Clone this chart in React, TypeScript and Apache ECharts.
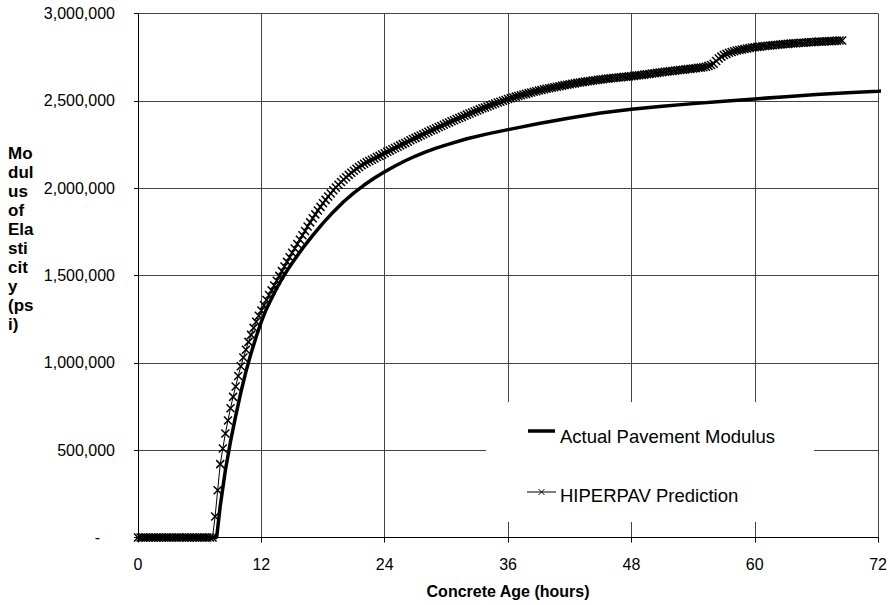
import React, { useEffect, useRef } from "react";
import * as echarts from "echarts";

// ---- data ----
const xTicks = [0, 12, 24, 36, 48, 60, 72];
const yMax = 3000000;
const yStep = 500000;

// HIPERPAV prediction, kpsi, sampled every 0.25 h from 0 h (one row per hour)
const predictionStepHours = 0.25;
const predictionKpsi = [
  0, 0, 0, 0, // 0
  0, 0, 0, 0, // 1
  0, 0, 0, 0, // 2
  0, 0, 0, 0, // 3
  0, 0, 0, 0, // 4
  0, 0, 0, 0, // 5
  0, 0, 0, 0, // 6
  0, 0, 120, 270, // 7
  420, 510, 595, 670, // 8
  740, 805, 865, 925, // 9
  980, 1030, 1075, 1120, // 10
  1160, 1200, 1235, 1270, // 11
  1300, 1330, 1360, 1388, // 12
  1415, 1443, 1470, 1498, // 13
  1525, 1552, 1578, 1604, // 14
  1630, 1655, 1680, 1705, // 15
  1730, 1755, 1780, 1804, // 16
  1828, 1850, 1872, 1893, // 17
  1914, 1933, 1952, 1970, // 18
  1988, 2004, 2020, 2035, // 19
  2050, 2063, 2076, 2088, // 20
  2100, 2111, 2121, 2131, // 21
  2140, 2148, 2155, 2163, // 22
  2170, 2178, 2185, 2193, // 23
  2200, 2208, 2215, 2223, // 24
  2230, 2237, 2245, 2252, // 25
  2259, 2266, 2274, 2281, // 26
  2288, 2295, 2302, 2309, // 27
  2316, 2323, 2330, 2336, // 28
  2343, 2350, 2356, 2363, // 29
  2370, 2376, 2383, 2389, // 30
  2396, 2402, 2408, 2415, // 31
  2421, 2427, 2433, 2439, // 32
  2445, 2451, 2457, 2462, // 33
  2468, 2474, 2479, 2485, // 34
  2490, 2495, 2500, 2505, // 35
  2510, 2515, 2519, 2524, // 36
  2528, 2532, 2536, 2540, // 37
  2544, 2548, 2552, 2555, // 38
  2559, 2562, 2566, 2569, // 39
  2572, 2575, 2578, 2581, // 40
  2584, 2587, 2590, 2592, // 41
  2595, 2598, 2600, 2603, // 42
  2605, 2607, 2610, 2612, // 43
  2614, 2616, 2618, 2620, // 44
  2622, 2624, 2626, 2627, // 45
  2629, 2631, 2632, 2634, // 46
  2635, 2637, 2638, 2640, // 47
  2641, 2643, 2645, 2646, // 48
  2648, 2650, 2652, 2654, // 49
  2656, 2658, 2660, 2662, // 50
  2664, 2666, 2668, 2669, // 51
  2671, 2673, 2675, 2676, // 52
  2678, 2680, 2682, 2683, // 53
  2685, 2687, 2689, 2690, // 54
  2692, 2695, 2700, 2705, // 55
  2712, 2728, 2742, 2753, // 56
  2762, 2769, 2775, 2780, // 57
  2784, 2788, 2791, 2794, // 58
  2797, 2800, 2802, 2805, // 59
  2807, 2809, 2810, 2812, // 60
  2814, 2815, 2817, 2818, // 61
  2820, 2821, 2823, 2824, // 62
  2825, 2826, 2828, 2829, // 63
  2830, 2831, 2832, 2833, // 64
  2834, 2835, 2836, 2837, // 65
  2838, 2839, 2839, 2840, // 66
  2841, 2842, 2842, 2843, // 67
  2844, 2845, 2845, // 68 .. 68.5
];

// Actual pavement modulus, kpsi
const actualHours = [
  0, 7.65, 8, 8.5, 9, 9.5, 10, 10.5, 11, 11.5, 12, 12.5, 13, 13.5, 14, 14.5, 15,
  16, 17, 18, 19, 20, 21, 22, 23, 24, 25, 26, 27, 28, 29, 30, 32, 34, 36, 39, 42,
  45, 48, 51, 54, 57, 60, 63, 66, 69, 72, 73.5,
];
const actualKpsi = [
  0, 0, 180, 385, 550, 695, 830, 950, 1055, 1150, 1236, 1310, 1370, 1428, 1480,
  1528, 1572, 1655, 1730, 1800, 1864, 1922, 1973, 2018, 2058, 2094, 2127, 2157,
  2184, 2208, 2229, 2248, 2283, 2311, 2335, 2370, 2402, 2430, 2452, 2469, 2484,
  2498, 2511, 2524, 2536, 2546, 2555, 2560,
];

const seriesNames = ["Actual Pavement Modulus", "HIPERPAV Prediction"];
const xTitle = "Concrete Age (hours)";
const yTitleLines = ["Mo", "dul", "us", "of", "Ela", "sti", "cit", "y", "(ps", "i)"];

const FONT = "'Liberation Sans', Arial, Helvetica, sans-serif";

export default function App() {
  const ref = useRef<HTMLDivElement>(null);

  useEffect(() => {
    document.body.style.margin = "0";
    if (!ref.current) return;
    const chart = echarts.init(ref.current, undefined, { renderer: "svg" });

    const predictionData = predictionKpsi.map((v, i) => [i * predictionStepHours, v * 1000]);
    const actualData = actualHours.map((h, i) => [h, actualKpsi[i] * 1000]);

    const xMarker = "path://M0,0L8,8M8,0L0,8";

    chart.setOption({
      animation: false,
      backgroundColor: "#ffffff",
      textStyle: { fontFamily: FONT },
      grid: { left: 138, right: 10, top: 13.5, bottom: 67.5, containLabel: false },
      xAxis: {
        type: "value",
        min: xTicks[0],
        max: xTicks[xTicks.length - 1],
        interval: 12,
        name: xTitle,
        nameLocation: "middle",
        nameGap: 46,
        nameTextStyle: { fontFamily: FONT, fontSize: 16, fontWeight: "bold", color: "#000" },
        axisLine: { show: true, lineStyle: { color: "#000", width: 1 } },
        axisTick: { show: true, length: 5, inside: false, lineStyle: { color: "#000" } },
        axisLabel: { margin: 19, fontFamily: FONT, fontSize: 16, color: "#000" },
        splitLine: { show: true, lineStyle: { color: "#444", width: 1 } },
      },
      yAxis: {
        type: "value",
        min: 0,
        max: yMax,
        interval: yStep,
        axisLine: { show: true, lineStyle: { color: "#000", width: 1 } },
        axisTick: { show: true, length: 4, inside: false, lineStyle: { color: "#000" } },
        axisLabel: {
          margin: 23,
          fontFamily: FONT,
          fontSize: 16,
          color: "#000",
          formatter: (v: number) => (v === 0 ? "{dash|-}" : v.toLocaleString("en-US")),
          rich: { dash: { fontFamily: FONT, fontSize: 16, color: "#000", padding: [0, 15, 0, 0] } },
        },
        splitLine: { show: true, lineStyle: { color: "#444", width: 1 } },
      },
      series: [
        {
          name: seriesNames[0],
          type: "line",
          data: actualData,
          symbol: "none",
          showSymbol: false,
          clip: false,
          lineStyle: { color: "#000", width: 3.5 },
          itemStyle: { color: "#000" },
          emphasis: { disabled: true },
          silent: true,
          z: 3,
        },
        {
          name: seriesNames[1],
          type: "line",
          data: predictionData,
          symbol: xMarker,
          symbolSize: 8,
          showSymbol: true,
          lineStyle: { color: "#000", width: 1 },
          itemStyle: { color: "#000", borderColor: "#000", borderWidth: 1.5 },
          emphasis: { disabled: true },
          silent: true,
          z: 2,
        },
      ],
      graphic: [
        {
          type: "rect",
          z: 10,
          shape: { x: 486, y: 402, width: 328, height: 120 },
          style: { fill: "#ffffff" },
          silent: true,
        },
        {
          type: "line",
          z: 11,
          shape: { x1: 528, y1: 431, x2: 555, y2: 431 },
          style: { stroke: "#000", lineWidth: 3.5 },
          silent: true,
        },
        {
          type: "text",
          z: 11,
          style: {
            text: seriesNames[0],
            x: 560,
            y: 436.5,
            fill: "#000",
            fontFamily: FONT,
            fontSize: 18.5,
            verticalAlign: "middle",
            align: "left",
          },
          silent: true,
        },
        {
          type: "line",
          z: 11,
          shape: { x1: 527, y1: 492, x2: 556, y2: 492 },
          style: { stroke: "#000", lineWidth: 1 },
          silent: true,
        },
        {
          type: "line",
          z: 11,
          shape: { x1: 538.5, y1: 489, x2: 544.5, y2: 495 },
          style: { stroke: "#000", lineWidth: 1 },
          silent: true,
        },
        {
          type: "line",
          z: 11,
          shape: { x1: 538.5, y1: 495, x2: 544.5, y2: 489 },
          style: { stroke: "#000", lineWidth: 1 },
          silent: true,
        },
        {
          type: "text",
          z: 11,
          style: {
            text: seriesNames[1],
            x: 560,
            y: 495.5,
            fill: "#000",
            fontFamily: FONT,
            fontSize: 18.5,
            verticalAlign: "middle",
            align: "left",
          },
          silent: true,
        },
        {
          type: "text",
          z: 11,
          style: {
            text: yTitleLines.join("\n"),
            x: 8,
            y: 144,
            fill: "#000",
            fontFamily: FONT,
            fontSize: 17,
            fontWeight: "bold",
            lineHeight: 19,
            verticalAlign: "top",
            align: "left",
          },
          silent: true,
        },
      ],
    });

    return () => {
      chart.dispose();
    };
  }, []);

  return <div ref={ref} style={{ width: 890, height: 605 }} />;
}
